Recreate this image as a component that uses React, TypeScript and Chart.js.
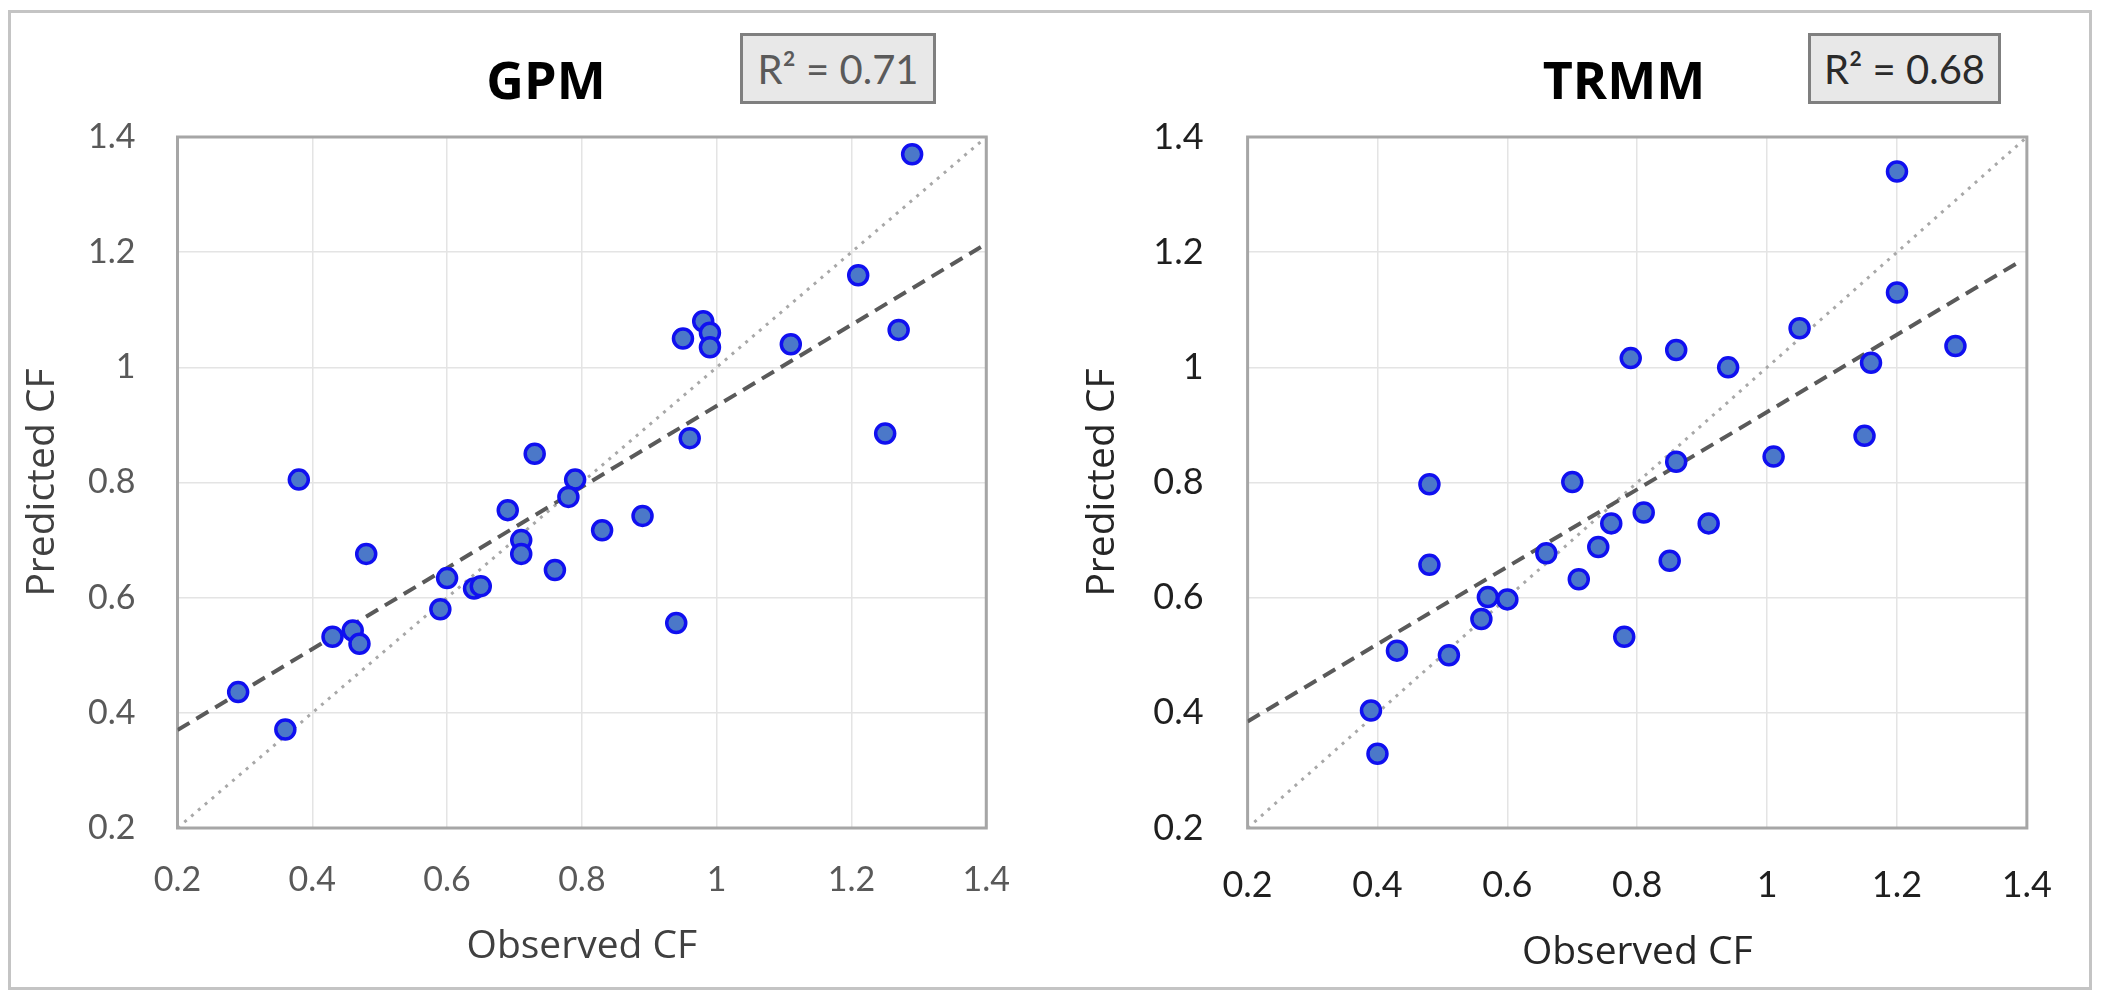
import React, { useEffect, useRef } from 'react';
import { Chart, registerables } from 'chart.js';

Chart.register(...registerables);

// ---------- data ----------
const GPM_OBSERVED = [1.29, 1.21, 0.98, 0.99, 0.99, 0.95, 1.11, 1.27, 1.25, 0.96, 0.73, 0.38, 0.79, 0.78, 0.69, 0.89, 0.83, 0.71, 0.71, 0.48, 0.76, 0.60, 0.64, 0.65, 0.59, 0.94, 0.43, 0.46, 0.47, 0.29, 0.36];
const GPM_PREDICTED = [1.37, 1.16, 1.08, 1.06, 1.035, 1.05, 1.04, 1.065, 0.885, 0.877, 0.85, 0.805, 0.805, 0.775, 0.752, 0.742, 0.717, 0.70, 0.676, 0.676, 0.648, 0.634, 0.616, 0.62, 0.58, 0.556, 0.532, 0.543, 0.52, 0.436, 0.371];

const TRMM_OBSERVED = [1.20, 1.20, 1.05, 0.79, 0.86, 0.94, 1.16, 1.29, 1.15, 1.01, 0.86, 0.48, 0.70, 0.81, 0.76, 0.91, 0.74, 0.66, 0.85, 0.48, 0.71, 0.57, 0.60, 0.56, 0.78, 0.43, 0.51, 0.39, 0.40];
const TRMM_PREDICTED = [1.34, 1.13, 1.068, 1.016, 1.03, 1.0, 1.008, 1.037, 0.881, 0.845, 0.836, 0.797, 0.801, 0.748, 0.729, 0.729, 0.688, 0.677, 0.664, 0.657, 0.632, 0.601, 0.597, 0.563, 0.532, 0.508, 0.50, 0.404, 0.329];

const GPM_TREND_X = [0.2, 1.392];
const GPM_TREND_Y = [0.370, 1.209];
const TRMM_TREND_X = [0.2, 1.388];
const TRMM_TREND_Y = [0.385, 1.183];

const ONE_TO_ONE_X = [0.2, 1.4];
const ONE_TO_ONE_Y = [0.2, 1.4];

const TICK_LABELS = ['0.2', '0.4', '0.6', '0.8', '1', '1.2', '1.4'];

const GPM_TITLE = 'GPM';
const TRMM_TITLE = 'TRMM';
const GPM_R2 = 'R² = 0.71';
const TRMM_R2 = 'R² = 0.68';
const X_TITLE = 'Observed CF';
const Y_TITLE = 'Predicted CF';

// ---------- helpers ----------
const zip = (xs: number[], ys: number[]) => xs.map((x, i) => ({ x, y: ys[i] }));

const plotFrame = {
  id: 'plotFrame',
  beforeDatasetsDraw(chart: any) {
    const { ctx, chartArea: a } = chart;
    ctx.save();
    ctx.strokeStyle = '#a6a6a6';
    ctx.lineWidth = 3;
    ctx.strokeRect(a.left, a.top, a.right - a.left, a.bottom - a.top);
    ctx.restore();
  },
};

type PanelProps = {
  left: number;
  top: number;
  width: number;
  height: number;
  obs: number[];
  pred: number[];
  trendX: number[];
  trendY: number[];
  yAxisWidth: number;
  padRight: number;
  padTop: number;
  xAxisHeight: number;
  yTickPad: number;
  xTickPad: number;
  yTitlePad: number;
  xTitlePad: number;
  tickSize: number;
  tickColor: string;
  titleColor: string;
};

function ScatterPanel(p: PanelProps) {
  const ref = useRef<HTMLCanvasElement | null>(null);

  useEffect(() => {
    if (!ref.current) return;
    const chart = new Chart(ref.current, {
      type: 'scatter',
      data: {
        datasets: [
          {
            type: 'scatter',
            label: 'points',
            data: zip(p.obs, p.pred),
            backgroundColor: '#4b78c9',
            borderColor: '#1010f0',
            borderWidth: 3.5,
            pointRadius: 9.5,
            order: 0,
          },
          {
            type: 'line',
            label: 'trend',
            data: zip(p.trendX, p.trendY),
            borderColor: '#5a5a5a',
            borderWidth: 4,
            borderDash: [14, 8],
            pointRadius: 0,
            fill: false,
            order: 1,
          },
          {
            type: 'line',
            label: '1:1',
            data: zip(ONE_TO_ONE_X, ONE_TO_ONE_Y),
            borderColor: '#a8a8a8',
            borderWidth: 3,
            borderDash: [3, 6],
            pointRadius: 0,
            fill: false,
            order: 2,
          },
        ],
      },
      options: {
        animation: false,
        responsive: false,
        maintainAspectRatio: false,
        layout: { padding: { left: 0, right: p.padRight, top: p.padTop, bottom: 0 } },
        plugins: {
          legend: { display: false },
          tooltip: { enabled: false },
          title: { display: false },
        },
        scales: {
          x: {
            type: 'linear',
            min: 0.2,
            max: 1.4,
            afterFit: (s: any) => {
              s.height = p.xAxisHeight;
            },
            ticks: {
              stepSize: 0.2,
              padding: p.xTickPad,
              color: p.tickColor,
              font: { family: 'Lato', size: p.tickSize },
              callback: (_v: any, i: number) => TICK_LABELS[i],
              maxRotation: 0,
            },
            grid: { color: '#e4e4e4', lineWidth: 1.5, drawTicks: false },
            border: { display: false },
            title: {
              display: true,
              text: X_TITLE,
              color: p.titleColor,
              font: { family: 'Open Sans', size: 39 },
              padding: { top: 0, bottom: p.xTitlePad },
            },
          },
          y: {
            type: 'linear',
            min: 0.2,
            max: 1.4,
            afterFit: (s: any) => {
              s.width = p.yAxisWidth;
            },
            ticks: {
              stepSize: 0.2,
              padding: p.yTickPad,
              color: p.tickColor,
              font: { family: 'Lato', size: p.tickSize },
              callback: (_v: any, i: number) => TICK_LABELS[i],
            },
            grid: { color: '#e4e4e4', lineWidth: 1.5, drawTicks: false },
            border: { display: false },
            title: {
              display: true,
              text: Y_TITLE,
              color: p.titleColor,
              font: { family: 'Open Sans', size: 39 },
              padding: { top: p.yTitlePad, bottom: 0 },
            },
          },
        },
      },
      plugins: [plotFrame],
    } as any);
    return () => chart.destroy();
  }, []);

  return (
    <canvas
      ref={ref}
      width={p.width}
      height={p.height}
      style={{ position: 'absolute', left: p.left, top: p.top, width: p.width, height: p.height }}
    />
  );
}

function Title({ text, cx }: { text: string; cx: number }) {
  return (
    <div
      style={{
        position: 'absolute',
        left: cx,
        top: 53,
        transform: 'translateX(-50%)',
        fontFamily: 'Open Sans',
        fontWeight: 700,
        fontSize: 52,
        lineHeight: '52px',
        color: '#000',
        whiteSpace: 'nowrap',
      }}
    >
      {text}
    </div>
  );
}

function R2Box({ text, left, width, color }: { text: string; left: number; width: number; color: string }) {
  return (
    <div
      style={{
        position: 'absolute',
        left,
        top: 33,
        width,
        height: 71,
        boxSizing: 'border-box',
        background: '#e8e8e8',
        border: '3px solid #7f7f7f',
        display: 'flex',
        alignItems: 'center',
        justifyContent: 'center',
        fontFamily: 'Lato',
        fontSize: 40,
        color,
        whiteSpace: 'nowrap',
      }}
    >
      {text}
    </div>
  );
}

export default function App() {
  return (
    <div
      style={{
        position: 'absolute',
        left: 0,
        top: 0,
        width: 2107,
        height: 1000,
        overflow: 'hidden',
        background: '#ffffff',
      }}
    >
      <div
        style={{
          position: 'absolute',
          left: 8,
          top: 10,
          width: 2084,
          height: 980,
          boxSizing: 'border-box',
          border: '3px solid #c4c4c4',
        }}
      />
      <ScatterPanel
        left={12}
        top={14}
        width={1030}
        height={972}
        obs={GPM_OBSERVED}
        pred={GPM_PREDICTED}
        trendX={GPM_TREND_X}
        trendY={GPM_TREND_Y}
        yAxisWidth={165.5}
        padRight={45.4}
        padTop={123}
        xAxisHeight={158}
        yTickPad={42}
        xTickPad={32}
        yTitlePad={7}
        xTitlePad={16}
        tickSize={34}
        tickColor="#595959"
        titleColor="#404040"
      />
      <ScatterPanel
        left={1060}
        top={14}
        width={1028}
        height={972}
        obs={TRMM_OBSERVED}
        pred={TRMM_PREDICTED}
        trendX={TRMM_TREND_X}
        trendY={TRMM_TREND_Y}
        yAxisWidth={187.6}
        padRight={39}
        padTop={123}
        xAxisHeight={158}
        yTickPad={44}
        xTickPad={36}
        yTitlePad={19}
        xTitlePad={10}
        tickSize={36}
        tickColor="#1f1f1f"
        titleColor="#262626"
      />
      <Title text={GPM_TITLE} cx={546} />
      <Title text={TRMM_TITLE} cx={1624} />
      <R2Box text={GPM_R2} left={740} width={196} color="#5a5a5a" />
      <R2Box text={TRMM_R2} left={1808} width={193} color="#2a2a2a" />
    </div>
  );
}
